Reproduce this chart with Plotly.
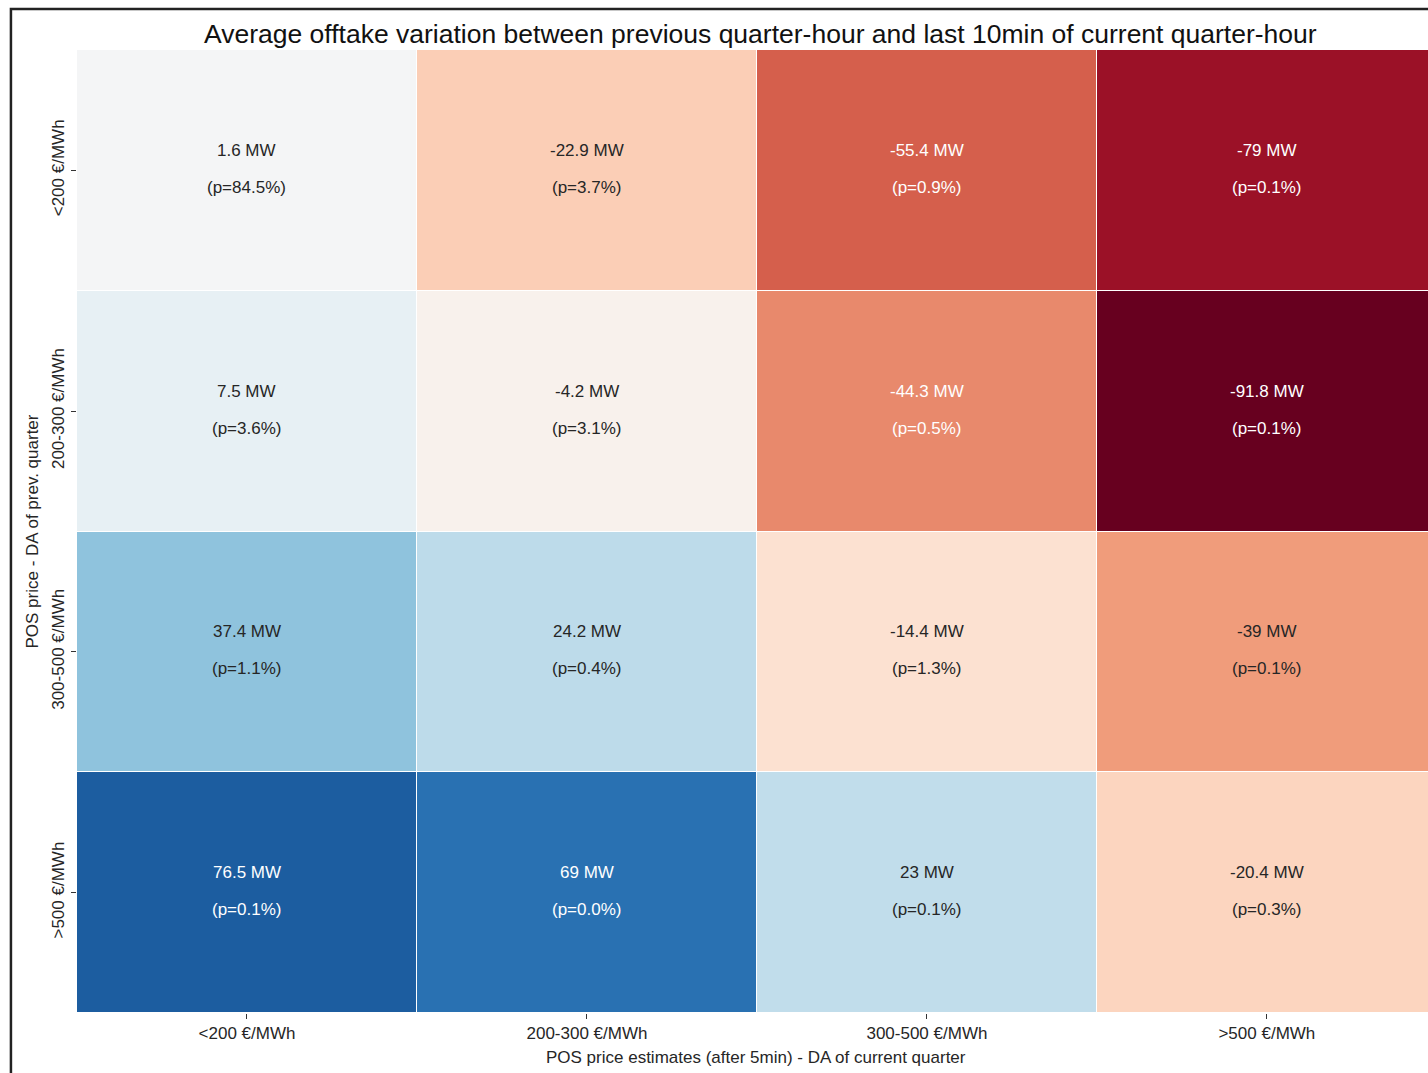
import plotly.graph_objects as go

# Price-spread bins
col_labels = ["<200 €/MWh", "200-300 €/MWh", "300-500 €/MWh", ">500 €/MWh"]
row_labels = ["<200 €/MWh", "200-300 €/MWh", "300-500 €/MWh", ">500 €/MWh"]

# Average offtake variation (MW), rows = previous quarter bin, cols = current estimate bin
offtake_mw = [
    [1.6, -22.9, -55.4, -79.0],
    [7.5, -4.2, -44.3, -91.8],
    [37.4, 24.2, -14.4, -39.0],
    [76.5, 69.0, 23.0, -20.4],
]
# Share of quarter-hours falling in each cell (%)
share_pct = [
    [84.5, 3.7, 0.9, 0.1],
    [3.6, 3.1, 0.5, 0.1],
    [1.1, 0.4, 1.3, 0.1],
    [0.1, 0.0, 0.1, 0.3],
]

# Diverging red-blue palette (red = negative, blue = positive)
rdbu = ["#67001f", "#b2182b", "#d6604d", "#f4a582", "#fddbc7", "#f7f7f7",
        "#d1e5f0", "#92c5de", "#4393c3", "#2166ac", "#053061"]
colorscale = [[i / (len(rdbu) - 1), c] for i, c in enumerate(rdbu)]

vmax = max(abs(v) for row in offtake_mw for v in row)
vmin = -vmax


def hex_rgb(h):
    h = h.lstrip("#")
    return [int(h[i:i + 2], 16) for i in (0, 2, 4)]


def cell_rgb(v):
    t = (v - vmin) / (vmax - vmin)
    t = min(max(t, 0.0), 1.0)
    pos = t * (len(rdbu) - 1)
    i = min(int(pos), len(rdbu) - 2)
    f = pos - i
    a, b = hex_rgb(rdbu[i]), hex_rgb(rdbu[i + 1])
    return [a[k] + (b[k] - a[k]) * f for k in range(3)]


def luminance(rgb):
    out = []
    for c in rgb:
        c = c / 255.0
        out.append(c / 12.92 if c <= 0.03928 else ((c + 0.055) / 1.055) ** 2.4)
    return 0.2126 * out[0] + 0.7152 * out[1] + 0.0722 * out[2]


def fmt(v):
    return f"{v:g}"


DARK = "#262626"
FONT = "Liberation Sans, Arial, sans-serif"

fig = go.Figure(
    go.Heatmap(
        z=offtake_mw,
        x=list(range(len(col_labels))),
        y=list(range(len(row_labels))),
        colorscale=colorscale,
        zmin=vmin,
        zmax=vmax,
        showscale=False,
        xgap=1,
        ygap=1,
        hoverinfo="skip",
    )
)

annotations = []
for r in range(len(row_labels)):
    for c in range(len(col_labels)):
        v = offtake_mw[r][c]
        color = DARK if luminance(cell_rgb(v)) > 0.408 else "white"
        annotations.append(dict(
            x=c, y=r, xref="x", yref="y", text=f"{fmt(v)} MW",
            showarrow=False, yshift=20, font=dict(size=17, color=color, family=FONT),
        ))
        annotations.append(dict(
            x=c, y=r, xref="x", yref="y", text=f"(p={share_pct[r][c]:.1f}%)",
            showarrow=False, yshift=-17, font=dict(size=17, color=color, family=FONT),
        ))

# Axis titles
annotations.append(dict(
    x=0.5026, y=-0.0457, xref="paper", yref="paper",
    text="POS price estimates (after 5min) - DA of current quarter",
    showarrow=False, xanchor="center", yanchor="middle",
    font=dict(size=17, color=DARK, family=FONT),
))
annotations.append(dict(
    x=-0.0333, y=0.5, xref="paper", yref="paper",
    text="POS price - DA of prev. quarter", textangle=-90,
    showarrow=False, xanchor="center", yanchor="middle",
    font=dict(size=17, color=DARK, family=FONT),
))
# Title
annotations.append(dict(
    x=0.506, y=1.0, xref="paper", yref="paper", yshift=16,
    text="Average offtake variation between previous quarter-hour and last 10min of current quarter-hour",
    showarrow=False, xanchor="center", yanchor="middle",
    font=dict(size=26.5, color="#111111", family=FONT),
))

fig.update_layout(
    width=1428,
    height=1073,
    margin=dict(l=77, r=0, t=50, b=60),
    paper_bgcolor="white",
    plot_bgcolor="white",
    font=dict(family=FONT, size=17, color=DARK),
    annotations=annotations,
    shapes=[dict(
        type="rect", xref="paper", yref="paper",
        x0=-0.0489, x1=1.1, y0=-0.2, y1=1.0426,
        line=dict(color="#222222", width=2.5), fillcolor="rgba(0,0,0,0)",
        layer="above",
    )],
)

fig.update_xaxes(
    range=[-0.5, 3.474],
    tickvals=list(range(len(col_labels))),
    ticktext=col_labels,
    ticks="outside", ticklen=5, tickwidth=1, tickcolor="#333333",
    showgrid=False, zeroline=False, showline=False,
    tickfont=dict(size=17, color=DARK, family=FONT),
)
fig.update_yaxes(
    range=[3.5, -0.5],
    tickvals=list(range(len(row_labels))),
    ticktext=row_labels,
    tickangle=-90,
    ticks="outside", ticklen=5, tickwidth=1, tickcolor="#333333",
    showgrid=False, zeroline=False, showline=False,
    tickfont=dict(size=17, color=DARK, family=FONT),
)

fig.write_html("out.html")
